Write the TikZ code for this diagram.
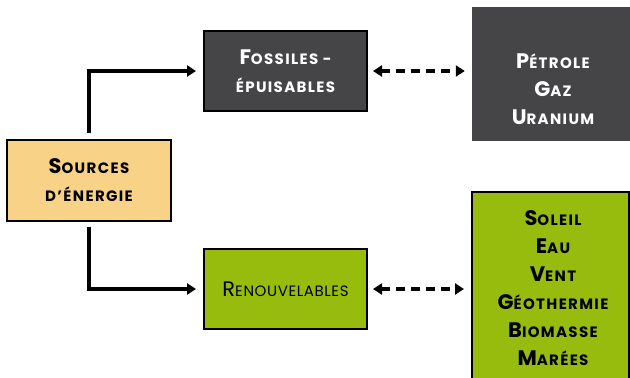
\documentclass[tikz,border=0pt]{standalone}
\usepackage{fontspec}
\setmainfont{Poppins}
\newfontfamily\capsfont{Poppins}[LetterSpace=9]
\usepackage{tikz}
\usetikzlibrary{positioning,arrows.meta}

\definecolor{srcColor}{RGB}{248,210,134}
\definecolor{fosColor}{RGB}{69,69,71}
\definecolor{renColor}{RGB}{151,188,14}
\newcommand{\smc}[2]{{\fontsize{21}{28}\selectfont #1}#2}

\begin{document}
\begin{tikzpicture}[x=1pt,y=-1pt,
  box/.style={draw=black,line width=2pt,inner sep=0pt,align=center},
  capsTxt/.style={align=center,inner sep=0pt,font=\capsfont\bfseries\fontsize{15}{28}\selectfont},
  flow/.style={line width=3.4pt,->,>={Triangle[length=9pt,width=11pt]}},
  link/.style={flow,<->,dash pattern=on 9pt off 6pt}]
\useasboundingbox (0,0) rectangle (630,378);
\node[box,fill=srcColor,minimum width=164pt,minimum height=81pt,font=\capsfont\bfseries\fontsize{15}{28}\selectfont] (src) at (89,180.5) {\smc{S}{OURCES}\\D’ÉNERGIE};
\node[box,fill=fosColor,text=white,minimum width=163pt,minimum height=80pt,font=\capsfont\bfseries\fontsize{15}{28}\selectfont] (fos) at (285.5,71) {\smc{F}{OSSILES -}\\ÉPUISABLES};
\node[box,fill=renColor,minimum width=163pt,minimum height=80pt,font=\addfontfeature{LetterSpace=4}\fontsize{15}{28}\selectfont] (ren) at (285.5,289) {\smc{R}{ENOUVELABLES}};
\node[fill=fosColor,inner sep=0pt,minimum width=158pt,minimum height=134pt] (pet) at (551,74) {};
\node[capsTxt,text=white] (petTxt) at (553,89) {\smc{P}{ÉTROLE}\\\smc{G}{AZ}\\\smc{U}{RANIUM}};
\node[box,fill=renColor,minimum width=157pt,minimum height=200pt] (sol) at (550.5,292) {};
\node[capsTxt] (solTxt) at (553,288) {\smc{S}{OLEIL}\\\smc{E}{AU}\\\smc{V}{ENT}\\\smc{G}{ÉOTHERMIE}\\\smc{B}{IOMASSE}\\\smc{M}{ARÉES}};
\draw[flow,shorten <=6pt,shorten >=7pt] (src.north) |- (fos.west);
\draw[flow,shorten <=5pt,shorten >=7pt] (src.south) |- (ren.west);
\draw[link,shorten <=5pt,shorten >=7pt] (fos.east) -- (fos.east -| pet.west);
\draw[link,shorten <=5pt,shorten >=7pt] (ren.east) -- (ren.east -| sol.west);
\end{tikzpicture}
\end{document}
